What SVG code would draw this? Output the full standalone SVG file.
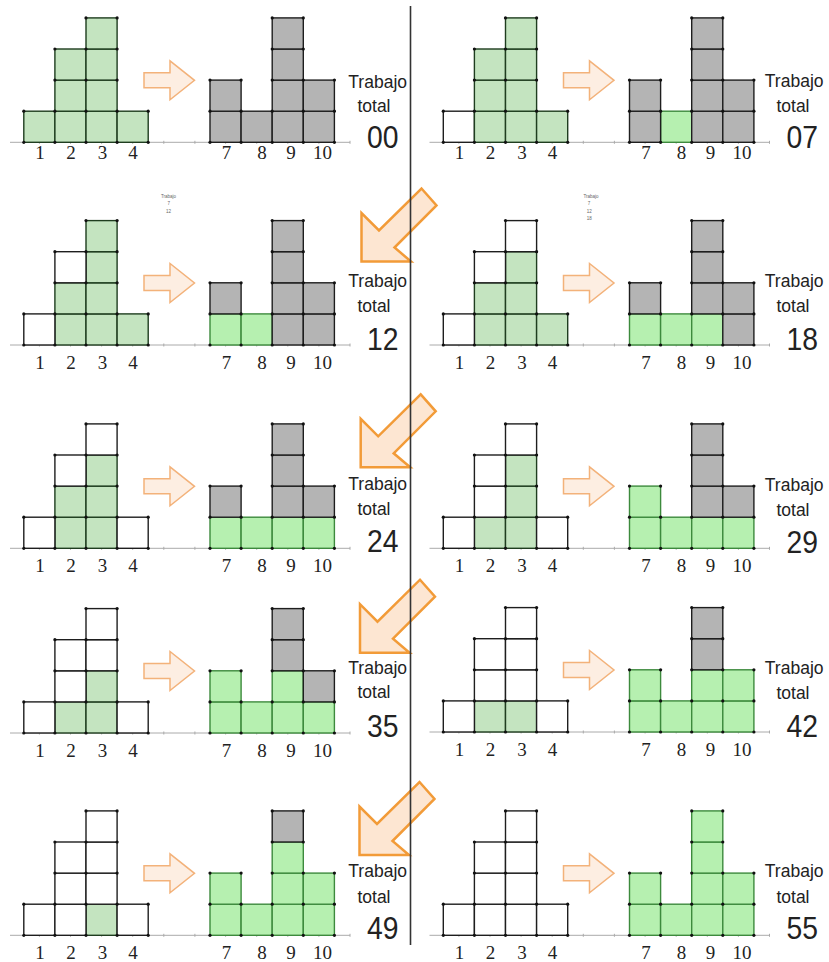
<svg xmlns="http://www.w3.org/2000/svg" xmlns:xlink="http://www.w3.org/1999/xlink" width="829" height="962" viewBox="0 0 829 962">
<style>
.g{fill:#c4e4c0;stroke:#1f3d1f;stroke-width:1.4}
.G{fill:#b6f0b0;stroke:#3d8a3d;stroke-width:1.4}
.k{fill:#b4b4b4;stroke:#1e1e1e;stroke-width:1.4}
.w{fill:#ffffff;stroke:#1e1e1e;stroke-width:1.4}
.dot{fill:#111}
.ax{stroke:#aaaaaa;stroke-width:1;fill:none}
.lab{font-family:"Liberation Serif",serif;font-size:19px;fill:#222;text-anchor:middle}
.tr{font-family:"Liberation Sans",Arial,sans-serif;font-size:17.5px;fill:#222;text-anchor:end}
.num{font-family:"Liberation Sans",Arial,sans-serif;font-size:31px;fill:#222;text-anchor:end}
.sa{fill:#fdeee2;stroke:#f3b27a;stroke-width:1.5;stroke-linejoin:miter}
.ba{fill:#fde6d2;stroke:#f29b38;stroke-width:2.5;stroke-linejoin:miter}
.tiny{font-family:"Liberation Sans",Arial,sans-serif;font-size:4.5px;fill:#666;text-anchor:middle}
</style>
<defs>
<rect id="c" width="31.1" height="31.1"/>
<g id="dots" class="dot">
<circle cx="23.8" cy="0" r="1.6"/><circle cx="23.8" cy="-31.1" r="1.6"/>
<circle cx="54.9" cy="0" r="1.6"/><circle cx="54.9" cy="-31.1" r="1.6"/><circle cx="54.9" cy="-62.2" r="1.6"/><circle cx="54.9" cy="-93.3" r="1.6"/>
<circle cx="86" cy="0" r="1.6"/><circle cx="86" cy="-31.1" r="1.6"/><circle cx="86" cy="-62.2" r="1.6"/><circle cx="86" cy="-93.3" r="1.6"/><circle cx="86" cy="-124.4" r="1.6"/>
<circle cx="117.1" cy="0" r="1.6"/><circle cx="117.1" cy="-31.1" r="1.6"/><circle cx="117.1" cy="-62.2" r="1.6"/><circle cx="117.1" cy="-93.3" r="1.6"/><circle cx="117.1" cy="-124.4" r="1.6"/>
<circle cx="148.2" cy="0" r="1.6"/><circle cx="148.2" cy="-31.1" r="1.6"/>
<circle cx="210" cy="0" r="1.6"/><circle cx="210" cy="-31.1" r="1.6"/><circle cx="210" cy="-62.2" r="1.6"/>
<circle cx="241.1" cy="0" r="1.6"/><circle cx="241.1" cy="-31.1" r="1.6"/><circle cx="241.1" cy="-62.2" r="1.6"/>
<circle cx="272.2" cy="0" r="1.6"/><circle cx="272.2" cy="-31.1" r="1.6"/><circle cx="272.2" cy="-62.2" r="1.6"/><circle cx="272.2" cy="-93.3" r="1.6"/><circle cx="272.2" cy="-124.4" r="1.6"/>
<circle cx="303.3" cy="0" r="1.6"/><circle cx="303.3" cy="-31.1" r="1.6"/><circle cx="303.3" cy="-62.2" r="1.6"/><circle cx="303.3" cy="-93.3" r="1.6"/><circle cx="303.3" cy="-124.4" r="1.6"/>
<circle cx="334.4" cy="0" r="1.6"/><circle cx="334.4" cy="-31.1" r="1.6"/><circle cx="334.4" cy="-62.2" r="1.6"/>
</g>
<g id="axis" class="ax">
<line x1="10" y1="0" x2="350" y2="0"/>
<path d="M39.4 -1.5v3M70.5 -1.5v3M101.6 -1.5v3M132.7 -1.5v3M163.8 -1.5v3M194.9 -1.5v3M225.6 -1.5v3M256.7 -1.5v3M287.8 -1.5v3M318.9 -1.5v3M350 -1.5v3"/>
</g>
<g id="nums" class="lab">
<text x="40" y="0">1</text><text x="71" y="0">2</text><text x="102.5" y="0">3</text><text x="133" y="0">4</text>
<text x="226.5" y="0">7</text><text x="262" y="0">8</text><text x="291" y="0">9</text><text x="322.5" y="0">10</text>
</g>
<polygon id="sarrow" class="sa" points="144,-69.5 170,-69.5 170,-81.5 194.5,-62 170,-42.5 170,-54.5 144,-54.5"/>
<polygon id="barrow" class="ba" points="0,0 0,-48.5 17.5,-31 60,-73 75,-56 33,-14 49.5,0"/>
</defs>

<g id="panel-00" transform="translate(0,142.3)">
<use href="#axis"/>
<g class="g"><use href="#c" x="23.8" y="-31.1"/><use href="#c" x="54.9" y="-31.1"/><use href="#c" x="54.9" y="-62.2"/><use href="#c" x="54.9" y="-93.3"/><use href="#c" x="86" y="-31.1"/><use href="#c" x="86" y="-62.2"/><use href="#c" x="86" y="-93.3"/><use href="#c" x="86" y="-124.4"/><use href="#c" x="117.1" y="-31.1"/></g>
<g class="k"><use href="#c" x="210" y="-31.1"/><use href="#c" x="210" y="-62.2"/><use href="#c" x="241.1" y="-31.1"/><use href="#c" x="272.2" y="-31.1"/><use href="#c" x="272.2" y="-62.2"/><use href="#c" x="272.2" y="-93.3"/><use href="#c" x="272.2" y="-124.4"/><use href="#c" x="303.3" y="-31.1"/><use href="#c" x="303.3" y="-62.2"/></g>
<use href="#dots"/>
<use href="#nums" y="17"/>
<use href="#sarrow"/>
<text class="tr" x="407" y="-54">Trabajo</text>
<text class="tr" x="390.5" y="-30.6">total</text>
<text class="num" x="398.5" y="6" textLength="31.5" lengthAdjust="spacingAndGlyphs">00</text>
</g>

<g id="panel-07" transform="translate(419.5,142.3)">
<use href="#axis"/>
<g class="G"><use href="#c" x="241.1" y="-31.1"/></g>
<g class="w"><use href="#c" x="23.8" y="-31.1"/></g>
<g class="g"><use href="#c" x="54.9" y="-31.1"/><use href="#c" x="54.9" y="-62.2"/><use href="#c" x="54.9" y="-93.3"/><use href="#c" x="86" y="-31.1"/><use href="#c" x="86" y="-62.2"/><use href="#c" x="86" y="-93.3"/><use href="#c" x="86" y="-124.4"/><use href="#c" x="117.1" y="-31.1"/></g>
<g class="k"><use href="#c" x="210" y="-31.1"/><use href="#c" x="210" y="-62.2"/><use href="#c" x="272.2" y="-31.1"/><use href="#c" x="272.2" y="-62.2"/><use href="#c" x="272.2" y="-93.3"/><use href="#c" x="272.2" y="-124.4"/><use href="#c" x="303.3" y="-31.1"/><use href="#c" x="303.3" y="-62.2"/></g>
<use href="#dots"/>
<use href="#nums" y="17"/>
<use href="#sarrow"/>
<text class="tr" x="404" y="-55">Trabajo</text>
<text class="tr" x="390" y="-30.6">total</text>
<text class="num" x="398.5" y="6" textLength="31.5" lengthAdjust="spacingAndGlyphs">07</text>
</g>

<g id="panel-12" transform="translate(0,345)">
<use href="#axis"/>
<g class="G"><use href="#c" x="210" y="-31.1"/><use href="#c" x="241.1" y="-31.1"/></g>
<g class="g"><use href="#c" x="54.9" y="-31.1"/><use href="#c" x="54.9" y="-62.2"/><use href="#c" x="86" y="-31.1"/><use href="#c" x="86" y="-62.2"/><use href="#c" x="86" y="-93.3"/><use href="#c" x="86" y="-124.4"/><use href="#c" x="117.1" y="-31.1"/></g>
<g class="w"><use href="#c" x="23.8" y="-31.1"/><use href="#c" x="54.9" y="-93.3"/></g>
<g class="k"><use href="#c" x="210" y="-62.2"/><use href="#c" x="272.2" y="-31.1"/><use href="#c" x="272.2" y="-62.2"/><use href="#c" x="272.2" y="-93.3"/><use href="#c" x="272.2" y="-124.4"/><use href="#c" x="303.3" y="-31.1"/><use href="#c" x="303.3" y="-62.2"/></g>
<use href="#dots"/>
<use href="#nums" y="24"/>
<use href="#sarrow"/>
<text class="tr" x="407" y="-58">Trabajo</text>
<text class="tr" x="390.5" y="-33">total</text>
<text class="num" x="398.5" y="5" textLength="31.5" lengthAdjust="spacingAndGlyphs">12</text>
</g>

<g id="panel-18" transform="translate(419.5,345)">
<use href="#axis"/>
<g class="G"><use href="#c" x="210" y="-31.1"/><use href="#c" x="241.1" y="-31.1"/><use href="#c" x="272.2" y="-31.1"/></g>
<g class="g"><use href="#c" x="54.9" y="-31.1"/><use href="#c" x="54.9" y="-62.2"/><use href="#c" x="86" y="-31.1"/><use href="#c" x="86" y="-62.2"/><use href="#c" x="86" y="-93.3"/><use href="#c" x="117.1" y="-31.1"/></g>
<g class="w"><use href="#c" x="23.8" y="-31.1"/><use href="#c" x="54.9" y="-93.3"/><use href="#c" x="86" y="-124.4"/></g>
<g class="k"><use href="#c" x="210" y="-62.2"/><use href="#c" x="272.2" y="-62.2"/><use href="#c" x="272.2" y="-93.3"/><use href="#c" x="272.2" y="-124.4"/><use href="#c" x="303.3" y="-31.1"/><use href="#c" x="303.3" y="-62.2"/></g>
<use href="#dots"/>
<use href="#nums" y="24"/>
<use href="#sarrow"/>
<text class="tr" x="404" y="-58">Trabajo</text>
<text class="tr" x="390" y="-33">total</text>
<text class="num" x="398.5" y="5" textLength="31.5" lengthAdjust="spacingAndGlyphs">18</text>
</g>

<g id="panel-24" transform="translate(0,548.3)">
<use href="#axis"/>
<g class="G"><use href="#c" x="210" y="-31.1"/><use href="#c" x="241.1" y="-31.1"/><use href="#c" x="272.2" y="-31.1"/><use href="#c" x="303.3" y="-31.1"/></g>
<g class="g"><use href="#c" x="54.9" y="-31.1"/><use href="#c" x="54.9" y="-62.2"/><use href="#c" x="86" y="-31.1"/><use href="#c" x="86" y="-62.2"/><use href="#c" x="86" y="-93.3"/></g>
<g class="w"><use href="#c" x="23.8" y="-31.1"/><use href="#c" x="54.9" y="-93.3"/><use href="#c" x="86" y="-124.4"/><use href="#c" x="117.1" y="-31.1"/></g>
<g class="k"><use href="#c" x="210" y="-62.2"/><use href="#c" x="272.2" y="-62.2"/><use href="#c" x="272.2" y="-93.3"/><use href="#c" x="272.2" y="-124.4"/><use href="#c" x="303.3" y="-62.2"/></g>
<use href="#dots"/>
<use href="#nums" y="24"/>
<use href="#sarrow"/>
<text class="tr" x="407" y="-58">Trabajo</text>
<text class="tr" x="390.5" y="-33">total</text>
<text class="num" x="398.5" y="4" textLength="31.5" lengthAdjust="spacingAndGlyphs">24</text>
</g>

<g id="panel-29" transform="translate(419.5,548.3)">
<use href="#axis"/>
<g class="G"><use href="#c" x="210" y="-31.1"/><use href="#c" x="210" y="-62.2"/><use href="#c" x="241.1" y="-31.1"/><use href="#c" x="272.2" y="-31.1"/><use href="#c" x="303.3" y="-31.1"/></g>
<g class="g"><use href="#c" x="54.9" y="-31.1"/><use href="#c" x="86" y="-31.1"/><use href="#c" x="86" y="-62.2"/><use href="#c" x="86" y="-93.3"/></g>
<g class="w"><use href="#c" x="23.8" y="-31.1"/><use href="#c" x="54.9" y="-62.2"/><use href="#c" x="54.9" y="-93.3"/><use href="#c" x="86" y="-124.4"/><use href="#c" x="117.1" y="-31.1"/></g>
<g class="k"><use href="#c" x="272.2" y="-62.2"/><use href="#c" x="272.2" y="-93.3"/><use href="#c" x="272.2" y="-124.4"/><use href="#c" x="303.3" y="-62.2"/></g>
<use href="#dots"/>
<use href="#nums" y="24"/>
<use href="#sarrow"/>
<text class="tr" x="404" y="-57">Trabajo</text>
<text class="tr" x="390" y="-32">total</text>
<text class="num" x="398.5" y="5" textLength="31.5" lengthAdjust="spacingAndGlyphs">29</text>
</g>

<g id="panel-35" transform="translate(0,733)">
<use href="#axis"/>
<g class="G"><use href="#c" x="210" y="-31.1"/><use href="#c" x="210" y="-62.2"/><use href="#c" x="241.1" y="-31.1"/><use href="#c" x="272.2" y="-31.1"/><use href="#c" x="272.2" y="-62.2"/><use href="#c" x="303.3" y="-31.1"/></g>
<g class="g"><use href="#c" x="54.9" y="-31.1"/><use href="#c" x="86" y="-31.1"/><use href="#c" x="86" y="-62.2"/></g>
<g class="w"><use href="#c" x="23.8" y="-31.1"/><use href="#c" x="54.9" y="-62.2"/><use href="#c" x="54.9" y="-93.3"/><use href="#c" x="86" y="-93.3"/><use href="#c" x="86" y="-124.4"/><use href="#c" x="117.1" y="-31.1"/></g>
<g class="k"><use href="#c" x="272.2" y="-93.3"/><use href="#c" x="272.2" y="-124.4"/><use href="#c" x="303.3" y="-62.2"/></g>
<use href="#dots"/>
<use href="#nums" y="24"/>
<use href="#sarrow"/>
<text class="tr" x="407" y="-59.5">Trabajo</text>
<text class="tr" x="390.5" y="-35">total</text>
<text class="num" x="398.5" y="3.5" textLength="31.5" lengthAdjust="spacingAndGlyphs">35</text>
</g>

<g id="panel-42" transform="translate(419.5,732)">
<use href="#axis"/>
<g class="G"><use href="#c" x="210" y="-31.1"/><use href="#c" x="210" y="-62.2"/><use href="#c" x="241.1" y="-31.1"/><use href="#c" x="272.2" y="-31.1"/><use href="#c" x="272.2" y="-62.2"/><use href="#c" x="303.3" y="-31.1"/><use href="#c" x="303.3" y="-62.2"/></g>
<g class="g"><use href="#c" x="54.9" y="-31.1"/><use href="#c" x="86" y="-31.1"/></g>
<g class="w"><use href="#c" x="23.8" y="-31.1"/><use href="#c" x="54.9" y="-62.2"/><use href="#c" x="54.9" y="-93.3"/><use href="#c" x="86" y="-62.2"/><use href="#c" x="86" y="-93.3"/><use href="#c" x="86" y="-124.4"/><use href="#c" x="117.1" y="-31.1"/></g>
<g class="k"><use href="#c" x="272.2" y="-93.3"/><use href="#c" x="272.2" y="-124.4"/></g>
<use href="#dots"/>
<use href="#nums" y="24"/>
<use href="#sarrow"/>
<text class="tr" x="404" y="-58.5">Trabajo</text>
<text class="tr" x="390" y="-33.5">total</text>
<text class="num" x="398.5" y="4.5" textLength="31.5" lengthAdjust="spacingAndGlyphs">42</text>
</g>

<g id="panel-49" transform="translate(0,935.3)">
<use href="#axis"/>
<g class="G"><use href="#c" x="210" y="-31.1"/><use href="#c" x="210" y="-62.2"/><use href="#c" x="241.1" y="-31.1"/><use href="#c" x="272.2" y="-31.1"/><use href="#c" x="272.2" y="-62.2"/><use href="#c" x="272.2" y="-93.3"/><use href="#c" x="303.3" y="-31.1"/><use href="#c" x="303.3" y="-62.2"/></g>
<g class="g"><use href="#c" x="86" y="-31.1"/></g>
<g class="w"><use href="#c" x="23.8" y="-31.1"/><use href="#c" x="54.9" y="-31.1"/><use href="#c" x="54.9" y="-62.2"/><use href="#c" x="54.9" y="-93.3"/><use href="#c" x="86" y="-62.2"/><use href="#c" x="86" y="-93.3"/><use href="#c" x="86" y="-124.4"/><use href="#c" x="117.1" y="-31.1"/></g>
<g class="k"><use href="#c" x="272.2" y="-124.4"/></g>
<use href="#dots"/>
<use href="#nums" y="24"/>
<use href="#sarrow"/>
<text class="tr" x="407" y="-58.5">Trabajo</text>
<text class="tr" x="390.5" y="-32.5">total</text>
<text class="num" x="398.5" y="4" textLength="31.5" lengthAdjust="spacingAndGlyphs">49</text>
</g>

<g id="panel-55" transform="translate(419.5,935.3)">
<use href="#axis"/>
<g class="G"><use href="#c" x="210" y="-31.1"/><use href="#c" x="210" y="-62.2"/><use href="#c" x="241.1" y="-31.1"/><use href="#c" x="272.2" y="-31.1"/><use href="#c" x="272.2" y="-62.2"/><use href="#c" x="272.2" y="-93.3"/><use href="#c" x="272.2" y="-124.4"/><use href="#c" x="303.3" y="-31.1"/><use href="#c" x="303.3" y="-62.2"/></g>
<g class="w"><use href="#c" x="23.8" y="-31.1"/><use href="#c" x="54.9" y="-31.1"/><use href="#c" x="54.9" y="-62.2"/><use href="#c" x="54.9" y="-93.3"/><use href="#c" x="86" y="-31.1"/><use href="#c" x="86" y="-62.2"/><use href="#c" x="86" y="-93.3"/><use href="#c" x="86" y="-124.4"/><use href="#c" x="117.1" y="-31.1"/></g>
<use href="#dots"/>
<use href="#nums" y="24"/>
<use href="#sarrow"/>
<text class="tr" x="404" y="-58.5">Trabajo</text>
<text class="tr" x="390" y="-32.5">total</text>
<text class="num" x="398.5" y="4" textLength="31.5" lengthAdjust="spacingAndGlyphs">55</text>
</g>

<g id="tiny-notes">
<text class="tiny" x="168.5" y="197.5">Trabajo</text>
<text class="tiny" x="168.7" y="205">7</text>
<text class="tiny" x="168.5" y="212.5">12</text>
<text class="tiny" x="591" y="197.5">Trabajo</text>
<text class="tiny" x="589" y="205">7</text>
<text class="tiny" x="589.3" y="212.5">12</text>
<text class="tiny" x="589.3" y="220">18</text>
</g>

<g id="connectors">
<use href="#barrow" x="361.5" y="261.5"/>
<use href="#barrow" x="360.7" y="467.3"/>
<use href="#barrow" x="360" y="652.7"/>
<use href="#barrow" x="359.5" y="855"/>
</g>

<line id="divider" x1="410.5" y1="6" x2="410.5" y2="945" stroke="#333" stroke-width="1.6"/>
</svg>
